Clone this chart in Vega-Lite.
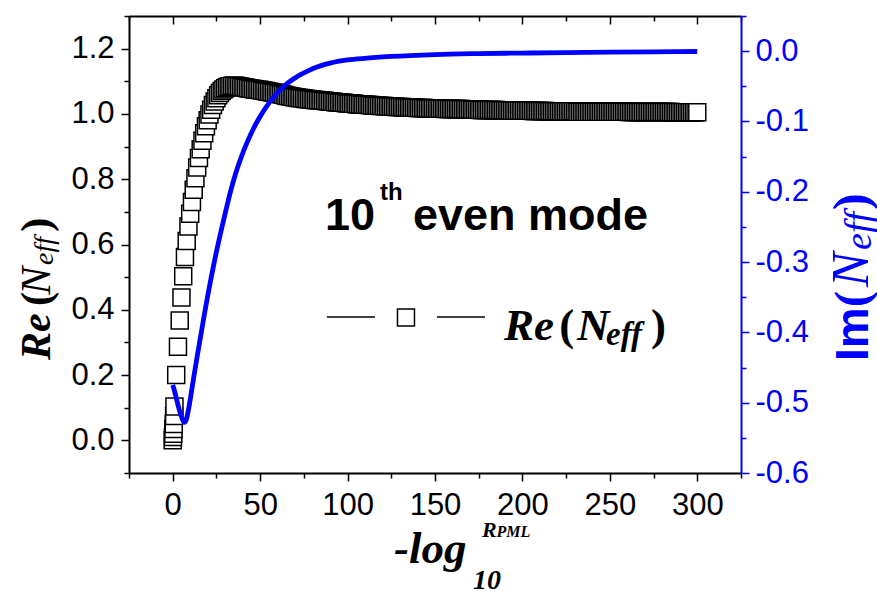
{
"$schema":"https://vega.github.io/schema/vega-lite/v6.json",
"width":612,"height":457,
"autosize":{"type":"none"},
"padding":{"left":129,"top":16,"right":136,"bottom":119},
"background":"white",
"config":{"view":{"stroke":null},"axis":{"grid":false}},
"datasets":{
"re":[{"x":0,"re":0.000},{"x":0.15,"re":0.010},{"x":0.3,"re":0.020},{"x":0.45,"re":0.035},{"x":0.6,"re":0.050},{"x":0.8,"re":0.075},{"x":1,"re":0.104},{"x":2,"re":0.200},{"x":3,"re":0.287},{"x":4,"re":0.367},{"x":5,"re":0.438},{"x":6,"re":0.503},{"x":7,"re":0.562},{"x":8,"re":0.611},{"x":9,"re":0.655},{"x":10,"re":0.694},{"x":11,"re":0.730},{"x":12,"re":0.768},{"x":13,"re":0.803},{"x":14,"re":0.836},{"x":15,"re":0.865},{"x":16,"re":0.892},{"x":17,"re":0.918},{"x":18,"re":0.941},{"x":19,"re":0.962},{"x":20,"re":0.981},{"x":21,"re":0.998},{"x":22,"re":1.013},{"x":23,"re":1.027},{"x":24,"re":1.038},{"x":25,"re":1.048},{"x":26,"re":1.057},{"x":27,"re":1.064},{"x":28,"re":1.070},{"x":29,"re":1.075},{"x":30,"re":1.079},{"x":31,"re":1.082},{"x":32,"re":1.084},{"x":33,"re":1.085},{"x":34,"re":1.086},{"x":35,"re":1.086},{"x":36,"re":1.086},{"x":37,"re":1.085},{"x":38,"re":1.084},{"x":39,"re":1.083},{"x":40,"re":1.082},
{"x":41,"re":1.081},{"x":42,"re":1.080},{"x":43,"re":1.079},{"x":44,"re":1.078},{"x":45,"re":1.077},{"x":46,"re":1.076},{"x":47,"re":1.075},{"x":48,"re":1.074},{"x":49,"re":1.074},{"x":50,"re":1.073},{"x":51,"re":1.072},{"x":52,"re":1.071},{"x":53,"re":1.070},{"x":54,"re":1.069},{"x":55,"re":1.068},{"x":56,"re":1.067},{"x":57,"re":1.066},{"x":58,"re":1.065},{"x":59,"re":1.064},{"x":60,"re":1.063},{"x":61,"re":1.062},{"x":62,"re":1.060},{"x":63,"re":1.059},{"x":64,"re":1.058},{"x":65,"re":1.056},{"x":66,"re":1.055},{"x":67,"re":1.054},{"x":68,"re":1.053},{"x":69,"re":1.052},{"x":70,"re":1.051},{"x":71,"re":1.050},{"x":72,"re":1.049},{"x":73,"re":1.049},{"x":74,"re":1.048},{"x":75,"re":1.047},{"x":76,"re":1.046},{"x":77,"re":1.046},{"x":78,"re":1.045},{"x":79,"re":1.045},{"x":80,"re":1.044},
{"x":81,"re":1.043},{"x":82,"re":1.043},{"x":83,"re":1.042},{"x":84,"re":1.042},{"x":85,"re":1.041},{"x":86,"re":1.040},{"x":87,"re":1.040},{"x":88,"re":1.039},{"x":89,"re":1.039},{"x":90,"re":1.038},{"x":91,"re":1.037},{"x":92,"re":1.037},{"x":93,"re":1.036},{"x":94,"re":1.036},{"x":95,"re":1.035},{"x":96,"re":1.035},{"x":97,"re":1.034},{"x":98,"re":1.034},{"x":99,"re":1.033},{"x":100,"re":1.033},
{"x":101,"re":1.032},{"x":102,"re":1.032},{"x":103,"re":1.031},{"x":104,"re":1.031},{"x":105,"re":1.030},{"x":106,"re":1.030},{"x":107,"re":1.029},{"x":108,"re":1.029},{"x":109,"re":1.028},{"x":110,"re":1.028},{"x":111,"re":1.028},{"x":112,"re":1.027},{"x":113,"re":1.027},{"x":114,"re":1.026},{"x":115,"re":1.026},{"x":116,"re":1.026},{"x":117,"re":1.025},{"x":118,"re":1.025},{"x":119,"re":1.024},{"x":120,"re":1.024},
{"x":121,"re":1.024},{"x":122,"re":1.023},{"x":123,"re":1.023},{"x":124,"re":1.023},{"x":125,"re":1.022},{"x":126,"re":1.022},{"x":127,"re":1.022},{"x":128,"re":1.021},{"x":129,"re":1.021},{"x":130,"re":1.021},{"x":131,"re":1.021},{"x":132,"re":1.020},{"x":133,"re":1.020},{"x":134,"re":1.020},{"x":135,"re":1.020},{"x":136,"re":1.019},{"x":137,"re":1.019},{"x":138,"re":1.019},{"x":139,"re":1.019},{"x":140,"re":1.018},
{"x":141,"re":1.018},{"x":142,"re":1.018},{"x":143,"re":1.018},{"x":144,"re":1.018},{"x":145,"re":1.017},{"x":146,"re":1.017},{"x":147,"re":1.017},{"x":148,"re":1.017},{"x":149,"re":1.017},{"x":150,"re":1.017},{"x":151,"re":1.016},{"x":152,"re":1.016},{"x":153,"re":1.016},{"x":154,"re":1.016},{"x":155,"re":1.016},{"x":156,"re":1.015},{"x":157,"re":1.015},{"x":158,"re":1.015},{"x":159,"re":1.015},{"x":160,"re":1.015},
{"x":161,"re":1.015},{"x":162,"re":1.015},{"x":163,"re":1.015},{"x":164,"re":1.015},{"x":165,"re":1.015},{"x":166,"re":1.014},{"x":167,"re":1.014},{"x":168,"re":1.014},{"x":169,"re":1.014},{"x":170,"re":1.014},{"x":171,"re":1.013},{"x":172,"re":1.013},{"x":173,"re":1.013},{"x":174,"re":1.013},{"x":175,"re":1.013},{"x":176,"re":1.012},{"x":177,"re":1.012},{"x":178,"re":1.012},{"x":179,"re":1.012},{"x":180,"re":1.012},
{"x":181,"re":1.012},{"x":182,"re":1.012},{"x":183,"re":1.012},{"x":184,"re":1.012},{"x":185,"re":1.012},{"x":186,"re":1.011},{"x":187,"re":1.011},{"x":188,"re":1.011},{"x":189,"re":1.011},{"x":190,"re":1.011},{"x":191,"re":1.011},{"x":192,"re":1.011},{"x":193,"re":1.010},{"x":194,"re":1.010},{"x":195,"re":1.010},{"x":196,"re":1.010},{"x":197,"re":1.010},{"x":198,"re":1.010},{"x":199,"re":1.010},{"x":200,"re":1.010},
{"x":201,"re":1.010},{"x":202,"re":1.010},{"x":203,"re":1.010},{"x":204,"re":1.010},{"x":205,"re":1.010},{"x":206,"re":1.009},{"x":207,"re":1.009},{"x":208,"re":1.009},{"x":209,"re":1.009},{"x":210,"re":1.009},{"x":211,"re":1.009},{"x":212,"re":1.009},{"x":213,"re":1.009},{"x":214,"re":1.008},{"x":215,"re":1.008},{"x":216,"re":1.008},{"x":217,"re":1.008},{"x":218,"re":1.008},{"x":219,"re":1.008},{"x":220,"re":1.008},
{"x":221,"re":1.008},{"x":222,"re":1.008},{"x":223,"re":1.008},{"x":224,"re":1.008},{"x":225,"re":1.008},{"x":226,"re":1.008},{"x":227,"re":1.008},{"x":228,"re":1.008},{"x":229,"re":1.008},{"x":230,"re":1.008},{"x":231,"re":1.007},{"x":232,"re":1.007},{"x":233,"re":1.007},{"x":234,"re":1.007},{"x":235,"re":1.007},{"x":236,"re":1.007},{"x":237,"re":1.007},{"x":238,"re":1.007},{"x":239,"re":1.007},{"x":240,"re":1.007},
{"x":241,"re":1.007},{"x":242,"re":1.007},{"x":243,"re":1.007},{"x":244,"re":1.007},{"x":245,"re":1.007},{"x":246,"re":1.007},{"x":247,"re":1.007},{"x":248,"re":1.007},{"x":249,"re":1.007},{"x":250,"re":1.007},{"x":251,"re":1.007},{"x":252,"re":1.007},{"x":253,"re":1.007},{"x":254,"re":1.007},{"x":255,"re":1.007},{"x":256,"re":1.007},{"x":257,"re":1.007},{"x":258,"re":1.007},{"x":259,"re":1.007},{"x":260,"re":1.007},
{"x":261,"re":1.006},{"x":262,"re":1.006},{"x":263,"re":1.006},{"x":264,"re":1.006},{"x":265,"re":1.006},{"x":266,"re":1.006},{"x":267,"re":1.006},{"x":268,"re":1.006},{"x":269,"re":1.006},{"x":270,"re":1.006},{"x":271,"re":1.006},{"x":272,"re":1.006},{"x":273,"re":1.006},{"x":274,"re":1.006},{"x":275,"re":1.006},{"x":276,"re":1.006},{"x":277,"re":1.006},{"x":278,"re":1.006},{"x":279,"re":1.006},{"x":280,"re":1.006},
{"x":281,"re":1.006},{"x":282,"re":1.006},{"x":283,"re":1.006},{"x":284,"re":1.006},{"x":285,"re":1.006},{"x":286,"re":1.005},{"x":287,"re":1.005},{"x":288,"re":1.005},{"x":289,"re":1.005},{"x":290,"re":1.005},{"x":291,"re":1.005},{"x":292,"re":1.005},{"x":293,"re":1.005},{"x":294,"re":1.005},{"x":295,"re":1.005},{"x":296,"re":1.005},{"x":297,"re":1.005},{"x":298,"re":1.005},{"x":299,"re":1.005},{"x":300,"re":1.005}],
"im":[{"x":0,"im":-0.475},{"x":1,"im":-0.483},{"x":2,"im":-0.493},{"x":3,"im":-0.503},{"x":4,"im":-0.512},{"x":5,"im":-0.520},{"x":6,"im":-0.526},{"x":7,"im":-0.528},{"x":8,"im":-0.522},{"x":9,"im":-0.510},{"x":10,"im":-0.496},{"x":11,"im":-0.480},{"x":12,"im":-0.464},{"x":13,"im":-0.449},{"x":14,"im":-0.434},{"x":16,"im":-0.405},{"x":18,"im":-0.376},{"x":20,"im":-0.348},{"x":22,"im":-0.322},{"x":24,"im":-0.297},{"x":26,"im":-0.274},{"x":28,"im":-0.252},{"x":30,"im":-0.231},{"x":33,"im":-0.200},{"x":36,"im":-0.174},{"x":39,"im":-0.152},{"x":42,"im":-0.133},{"x":46,"im":-0.111},{"x":50,"im":-0.093},{"x":55,"im":-0.074},{"x":60,"im":-0.059},{"x":65,"im":-0.047},{"x":70,"im":-0.038},{"x":75,"im":-0.031},{"x":80,"im":-0.025},{"x":90,"im":-0.017},{"x":100,"im":-0.0125},{"x":111,"im":-0.010},{"x":125,"im":-0.0075},{"x":150,"im":-0.0048},{"x":175,"im":-0.0035},{"x":200,"im":-0.0027},{"x":225,"im":-0.002},{"x":250,"im":-0.0014},{"x":275,"im":-0.0009},{"x":300,"im":-0.0005}]
},
"layer":[
{"data":{"name":"re"},
 "mark":{"type":"point","shape":"square","filled":true,"fill":"white","stroke":"black","strokeWidth":1.5,"size":289,"opacity":1},
 "encoding":{
  "x":{"field":"x","type":"quantitative","scale":{"domain":[-25,325],"nice":false,"zero":false},
   "axis":{"orient":"bottom","title":null,"values":[-25,0,25,50,75,100,125,150,175,200,225,250,275,300,325],
    "labelExpr":"datum.value % 50 === 0 ? datum.label : ''","labelFont":"Liberation Sans","labelFontSize":31,"labelColor":"black","labelPadding":9,"labelFlush":false,"labelOverlap":false,
    "tickColor":"black","tickWidth":1.5,"tickSize":{"condition":{"test":"datum.value % 50 === 0","value":8},"value":5},
    "domainColor":"black","domainWidth":2,"grid":false}},
  "y":{"field":"re","type":"quantitative","scale":{"domain":[-0.1,1.3],"nice":false,"zero":false},
   "axis":{"orient":"left","title":null,"values":[-0.1,0,0.1,0.2,0.3,0.4,0.5,0.6,0.7,0.8,0.9,1.0,1.1,1.2,1.3],
    "labelExpr":"(round(datum.value*10) % 2 === 0 && datum.value > -0.05 && datum.value < 1.25) ? format(datum.value, '.1f') : ''","labelFont":"Liberation Sans","labelFontSize":31,"labelColor":"black","labelPadding":7,"labelFlush":false,"labelOverlap":false,
    "tickColor":"black","tickWidth":1.5,"tickSize":{"condition":{"test":"round(datum.value*10) % 2 === 0","value":8},"value":5},
    "domainColor":"black","domainWidth":2,"grid":false}}}},
{"data":{"name":"im"},
 "mark":{"type":"line","color":"#0000ff","strokeWidth":4.8,"interpolate":"monotone"},
 "encoding":{
  "x":{"field":"x","type":"quantitative","scale":{"domain":[-25,325],"nice":false,"zero":false},
   "axis":{"orient":"top","title":null,"values":[-25,0,25,50,75,100,125,150,175,200,225,250,275,300,325],"labels":false,
    "tickColor":"black","tickWidth":1.5,"tickSize":{"condition":{"test":"datum.value % 50 === 0","value":-8},"value":-5},
    "domainColor":"black","domainWidth":2,"grid":false}},
  "y":{"field":"im","type":"quantitative","scale":{"domain":[-0.6,0.05],"nice":false,"zero":false},
   "axis":{"orient":"right","title":null,"values":[-0.6,-0.55,-0.5,-0.45,-0.4,-0.35,-0.3,-0.25,-0.2,-0.15,-0.1,-0.05,0,0.05],
    "labelExpr":"round(datum.value*20) % 2 === 0 ? replace(format(datum.value, '.1f'), '\u2212', '-') : ''","labelFont":"Liberation Sans","labelFontSize":31,"labelColor":"#0000ff","labelPadding":6,"labelFlush":false,"labelOverlap":false,
    "tickColor":"#0000ff","tickWidth":1.5,"tickSize":{"condition":{"test":"round(datum.value*20) % 2 === 0","value":8},"value":5},
    "domainColor":"#0000ff","domainWidth":2,"grid":false}}}},
{"data":{"values":[{}]},"mark":{"type":"text","text":"10","font":"Liberation Sans","fontWeight":"bold","fontSize":45,"align":"left","baseline":"alphabetic","color":"black"},
 "encoding":{"x":{"datum":87.1,"type":"quantitative","scale":{"domain":[-25,325],"nice":false,"zero":false},"axis":null},"y":{"datum":0.6444,"type":"quantitative","scale":{"domain":[-0.1,1.3],"nice":false,"zero":false},"axis":null}}},
{"data":{"values":[{}]},"mark":{"type":"text","text":"th","font":"Liberation Sans","fontWeight":"bold","fontSize":24,"align":"left","baseline":"alphabetic","color":"black"},
 "encoding":{"x":{"datum":118.5,"type":"quantitative","scale":{"domain":[-25,325],"nice":false,"zero":false},"axis":null},"y":{"datum":0.7363,"type":"quantitative","scale":{"domain":[-0.1,1.3],"nice":false,"zero":false},"axis":null}}},
{"data":{"values":[{}]},"mark":{"type":"text","text":"even mode","font":"Liberation Sans","fontWeight":"bold","fontSize":45,"align":"left","baseline":"alphabetic","color":"black"},
 "encoding":{"x":{"datum":137.4,"type":"quantitative","scale":{"domain":[-25,325],"nice":false,"zero":false},"axis":null},"y":{"datum":0.6444,"type":"quantitative","scale":{"domain":[-0.1,1.3],"nice":false,"zero":false},"axis":null}}},
{"data":{"values":[{}]},"mark":{"type":"rule","color":"black","strokeWidth":1.3},
 "encoding":{"x":{"datum":88.2,"type":"quantitative","scale":{"domain":[-25,325],"nice":false,"zero":false},"axis":null},"x2":{"datum":115.7},"y":{"datum":0.3779,"type":"quantitative","scale":{"domain":[-0.1,1.3],"nice":false,"zero":false},"axis":null}}},
{"data":{"values":[{}]},"mark":{"type":"rule","color":"black","strokeWidth":1.3},
 "encoding":{"x":{"datum":151.1,"type":"quantitative","scale":{"domain":[-25,325],"nice":false,"zero":false},"axis":null},"x2":{"datum":178.6},"y":{"datum":0.3779,"type":"quantitative","scale":{"domain":[-0.1,1.3],"nice":false,"zero":false},"axis":null}}},
{"data":{"values":[{}]},"mark":{"type":"point","shape":"square","filled":true,"fill":"white","stroke":"black","strokeWidth":1.5,"size":289,"opacity":1},
 "encoding":{"x":{"datum":133.4,"type":"quantitative","scale":{"domain":[-25,325],"nice":false,"zero":false},"axis":null},"y":{"datum":0.3765,"type":"quantitative","scale":{"domain":[-0.1,1.3],"nice":false,"zero":false},"axis":null}}},
{"data":{"values":[{}]},"mark":{"type":"text","text":"Re","font":"Liberation Serif","fontWeight":"bold","fontStyle":"italic","fontSize":45,"align":"left","baseline":"alphabetic","color":"black"},
 "encoding":{"x":{"datum":189.5,"type":"quantitative","scale":{"domain":[-25,325],"nice":false,"zero":false},"axis":null},"y":{"datum":0.3074,"type":"quantitative","scale":{"domain":[-0.1,1.3],"nice":false,"zero":false},"axis":null}}},
{"data":{"values":[{}]},"mark":{"type":"text","text":"(","font":"Liberation Serif","fontWeight":"bold","fontSize":45,"align":"left","baseline":"alphabetic","color":"black"},
 "encoding":{"x":{"datum":221.0,"type":"quantitative","scale":{"domain":[-25,325],"nice":false,"zero":false},"axis":null},"y":{"datum":0.3074,"type":"quantitative","scale":{"domain":[-0.1,1.3],"nice":false,"zero":false},"axis":null}}},
{"data":{"values":[{}]},"mark":{"type":"text","text":"N","font":"Liberation Serif","fontWeight":"bold","fontStyle":"italic","fontSize":45,"align":"left","baseline":"alphabetic","color":"black"},
 "encoding":{"x":{"datum":231.2,"type":"quantitative","scale":{"domain":[-25,325],"nice":false,"zero":false},"axis":null},"y":{"datum":0.3074,"type":"quantitative","scale":{"domain":[-0.1,1.3],"nice":false,"zero":false},"axis":null}}},
{"data":{"values":[{}]},"mark":{"type":"text","text":"eff","font":"Liberation Serif","fontWeight":"bold","fontStyle":"italic","fontSize":33,"align":"left","baseline":"alphabetic","color":"black"},
 "encoding":{"x":{"datum":247.8,"type":"quantitative","scale":{"domain":[-25,325],"nice":false,"zero":false},"axis":null},"y":{"datum":0.2921,"type":"quantitative","scale":{"domain":[-0.1,1.3],"nice":false,"zero":false},"axis":null}}},
{"data":{"values":[{}]},"mark":{"type":"text","text":")","font":"Liberation Serif","fontWeight":"bold","fontSize":45,"align":"left","baseline":"alphabetic","color":"black"},
 "encoding":{"x":{"datum":273.5,"type":"quantitative","scale":{"domain":[-25,325],"nice":false,"zero":false},"axis":null},"y":{"datum":0.3074,"type":"quantitative","scale":{"domain":[-0.1,1.3],"nice":false,"zero":false},"axis":null}}},
{"data":{"values":[{}]},"mark":{"type":"text","text":"Re","angle":270,"font":"Liberation Serif","fontWeight":"bold","fontStyle":"italic","fontSize":42,"align":"left","baseline":"alphabetic","color":"black"},
 "encoding":{"x":{"datum":-70.2,"type":"quantitative","scale":{"domain":[-25,325],"nice":false,"zero":false},"axis":null},"y":{"datum":0.2462,"type":"quantitative","scale":{"domain":[-0.1,1.3],"nice":false,"zero":false},"axis":null}}},
{"data":{"values":[{}]},"mark":{"type":"text","text":"(","angle":270,"font":"Liberation Serif","fontWeight":"bold","fontSize":42,"align":"left","baseline":"alphabetic","color":"black"},
 "encoding":{"x":{"datum":-70.2,"type":"quantitative","scale":{"domain":[-25,325],"nice":false,"zero":false},"axis":null},"y":{"datum":0.4117,"type":"quantitative","scale":{"domain":[-0.1,1.3],"nice":false,"zero":false},"axis":null}}},
{"data":{"values":[{}]},"mark":{"type":"text","text":"N","angle":270,"font":"Liberation Serif","fontStyle":"italic","fontSize":42,"align":"left","baseline":"alphabetic","color":"black"},
 "encoding":{"x":{"datum":-70.2,"type":"quantitative","scale":{"domain":[-25,325],"nice":false,"zero":false},"axis":null},"y":{"datum":0.4463,"type":"quantitative","scale":{"domain":[-0.1,1.3],"nice":false,"zero":false},"axis":null}}},
{"data":{"values":[{}]},"mark":{"type":"text","text":"eff","angle":270,"font":"Liberation Serif","fontStyle":"italic","fontSize":28,"align":"left","baseline":"alphabetic","color":"black"},
 "encoding":{"x":{"datum":-68.5,"type":"quantitative","scale":{"domain":[-25,325],"nice":false,"zero":false},"axis":null},"y":{"datum":0.5372,"type":"quantitative","scale":{"domain":[-0.1,1.3],"nice":false,"zero":false},"axis":null}}},
{"data":{"values":[{}]},"mark":{"type":"text","text":")","angle":270,"font":"Liberation Serif","fontWeight":"bold","fontSize":42,"align":"left","baseline":"alphabetic","color":"black"},
 "encoding":{"x":{"datum":-70.2,"type":"quantitative","scale":{"domain":[-25,325],"nice":false,"zero":false},"axis":null},"y":{"datum":0.6392,"type":"quantitative","scale":{"domain":[-0.1,1.3],"nice":false,"zero":false},"axis":null}}},
{"data":{"values":[{}]},"mark":{"type":"text","text":"Im","angle":270,"font":"Liberation Sans","fontWeight":"bold","fontSize":46,"align":"left","baseline":"alphabetic","color":"#0000ff"},
 "encoding":{"x":{"datum":397.6,"type":"quantitative","scale":{"domain":[-25,325],"nice":false,"zero":false},"axis":null},"y":{"datum":0.2431,"type":"quantitative","scale":{"domain":[-0.1,1.3],"nice":false,"zero":false},"axis":null}}},
{"data":{"values":[{}]},"mark":{"type":"text","text":"(","angle":270,"font":"Liberation Serif","fontWeight":"bold","fontSize":48,"align":"left","baseline":"alphabetic","color":"#0000ff"},
 "encoding":{"x":{"datum":397.6,"type":"quantitative","scale":{"domain":[-25,325],"nice":false,"zero":false},"axis":null},"y":{"datum":0.4085,"type":"quantitative","scale":{"domain":[-0.1,1.3],"nice":false,"zero":false},"axis":null}}},
{"data":{"values":[{}]},"mark":{"type":"text","text":"N","angle":270,"font":"Liberation Serif","fontStyle":"italic","fontSize":52,"align":"left","baseline":"alphabetic","color":"#0000ff"},
 "encoding":{"x":{"datum":397.6,"type":"quantitative","scale":{"domain":[-25,325],"nice":false,"zero":false},"axis":null},"y":{"datum":0.4698,"type":"quantitative","scale":{"domain":[-0.1,1.3],"nice":false,"zero":false},"axis":null}}},
{"data":{"values":[{}]},"mark":{"type":"text","text":"eff","angle":270,"font":"Liberation Serif","fontStyle":"italic","fontSize":38,"align":"left","baseline":"alphabetic","color":"#0000ff"},
 "encoding":{"x":{"datum":399.3,"type":"quantitative","scale":{"domain":[-25,325],"nice":false,"zero":false},"axis":null},"y":{"datum":0.5832,"type":"quantitative","scale":{"domain":[-0.1,1.3],"nice":false,"zero":false},"axis":null}}},
{"data":{"values":[{}]},"mark":{"type":"text","text":")","angle":270,"font":"Liberation Serif","fontWeight":"bold","fontSize":50,"align":"left","baseline":"alphabetic","color":"#0000ff"},
 "encoding":{"x":{"datum":397.6,"type":"quantitative","scale":{"domain":[-25,325],"nice":false,"zero":false},"axis":null},"y":{"datum":0.7057,"type":"quantitative","scale":{"domain":[-0.1,1.3],"nice":false,"zero":false},"axis":null}}},
{"data":{"values":[{}]},"mark":{"type":"text","text":"-log","font":"Liberation Serif","fontWeight":"bold","fontStyle":"italic","fontSize":45,"align":"left","baseline":"alphabetic","color":"black"},
 "encoding":{"x":{"datum":126.5,"type":"quantitative","scale":{"domain":[-25,325],"nice":false,"zero":false},"axis":null},"y":{"datum":-0.3757,"type":"quantitative","scale":{"domain":[-0.1,1.3],"nice":false,"zero":false},"axis":null}}},
{"data":{"values":[{}]},"mark":{"type":"text","text":"10","font":"Liberation Serif","fontWeight":"bold","fontStyle":"italic","fontSize":28,"align":"left","baseline":"alphabetic","color":"black"},
 "encoding":{"x":{"datum":171.8,"type":"quantitative","scale":{"domain":[-25,325],"nice":false,"zero":false},"axis":null},"y":{"datum":-0.4553,"type":"quantitative","scale":{"domain":[-0.1,1.3],"nice":false,"zero":false},"axis":null}}},
{"data":{"values":[{}]},"mark":{"type":"text","text":"R","font":"Liberation Serif","fontWeight":"bold","fontStyle":"italic","fontSize":22,"align":"left","baseline":"alphabetic","color":"black"},
 "encoding":{"x":{"datum":176.9,"type":"quantitative","scale":{"domain":[-25,325],"nice":false,"zero":false},"axis":null},"y":{"datum":-0.2961,"type":"quantitative","scale":{"domain":[-0.1,1.3],"nice":false,"zero":false},"axis":null}}},
{"data":{"values":[{}]},"mark":{"type":"text","text":"PML","font":"Liberation Serif","fontWeight":"bold","fontStyle":"italic","fontSize":16,"align":"left","baseline":"alphabetic","color":"black"},
 "encoding":{"x":{"datum":185.2,"type":"quantitative","scale":{"domain":[-25,325],"nice":false,"zero":false},"axis":null},"y":{"datum":-0.2961,"type":"quantitative","scale":{"domain":[-0.1,1.3],"nice":false,"zero":false},"axis":null}}}
],
"resolve":{"scale":{"y":"independent"},"axis":{"x":"independent","y":"independent"}}
}
